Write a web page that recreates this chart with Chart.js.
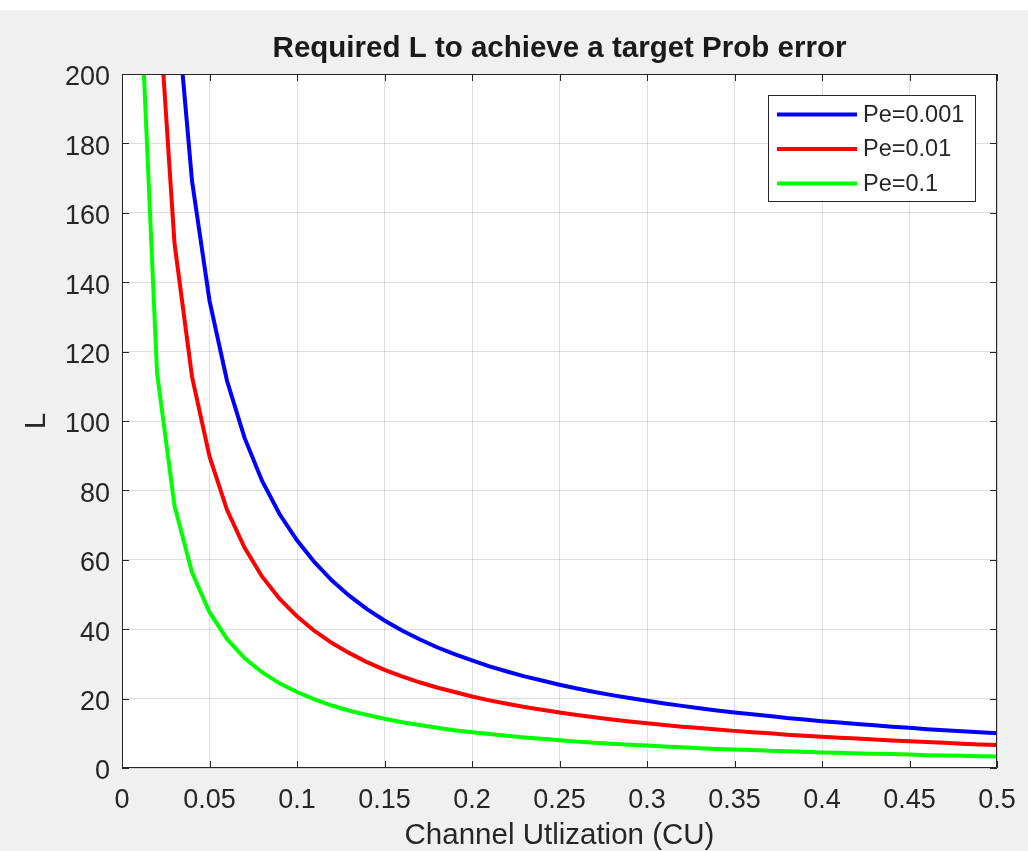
<!DOCTYPE html>
<html>
<head>
<meta charset="utf-8">
<script src="https://cdn.jsdelivr.net/npm/chart.js@4.4.1/dist/chart.umd.min.js"></script>
<style>
  body { margin: 0; background: #f0f0f0; }
  #wrap { width: 1028px; height: 851px; }
</style>
</head>
<body>
<div id="wrap"><canvas id="chart" width="1028" height="851"></canvas></div>
<script>
// --- Data ---
const cu = [0.01, 0.02, 0.03, 0.04, 0.05, 0.06, 0.07, 0.08, 0.09, 0.10,
            0.11, 0.12, 0.13, 0.14, 0.15, 0.16, 0.17, 0.18, 0.19, 0.20,
            0.21, 0.22, 0.23, 0.24, 0.25, 0.26, 0.27, 0.28, 0.29, 0.30,
            0.31, 0.32, 0.33, 0.34, 0.35, 0.36, 0.37, 0.38, 0.39, 0.40,
            0.41, 0.42, 0.43, 0.44, 0.45, 0.46, 0.47, 0.48, 0.49, 0.50];

const pe001 = [687, 342, 226.8, 169.2, 134.7, 111.6, 95.2, 82.8, 73.2, 65.6,
               59.3, 54.0, 49.6, 45.8, 42.5, 39.6, 37.1, 34.8, 32.8, 31.0,
               29.3, 27.8, 26.4, 25.2, 24.0, 22.9, 21.9, 21.0, 20.2, 19.4,
               18.6, 17.9, 17.2, 16.6, 16.0, 15.5, 15.0, 14.4, 14.0, 13.5,
               13.1, 12.7, 12.3, 11.9, 11.6, 11.2, 10.9, 10.6, 10.3, 10.0];

const pe01 = [458, 228, 151.2, 112.8, 89.8, 74.4, 63.5, 55.2, 48.8, 43.7,
              39.5, 36.0, 33.1, 30.5, 28.3, 26.4, 24.7, 23.2, 21.9, 20.6,
              19.5, 18.5, 17.6, 16.8, 16.0, 15.3, 14.6, 14.0, 13.4, 12.9,
              12.4, 11.9, 11.5, 11.1, 10.7, 10.3, 10.0, 9.6, 9.3, 9.0,
              8.7, 8.5, 8.2, 7.9, 7.7, 7.5, 7.3, 7.0, 6.8, 6.6];

const pe1 = [229.1, 114.0, 75.6, 56.4, 44.9, 37.2, 31.7, 27.6, 24.4, 21.9,
             19.8, 18.0, 16.5, 15.3, 14.2, 13.2, 12.4, 11.6, 10.9, 10.3,
             9.8, 9.3, 8.8, 8.4, 8.0, 7.6, 7.3, 7.0, 6.7, 6.5,
             6.2, 6.0, 5.7, 5.5, 5.3, 5.2, 5.0, 4.8, 4.7, 4.5,
             4.4, 4.2, 4.1, 4.0, 3.9, 3.7, 3.6, 3.5, 3.4, 3.3];

const seriesLabels = ["Pe=0.001", "Pe=0.01", "Pe=0.1"];
const seriesColors = ["#0000ff", "#ff0000", "#00ff00"];

const xTickValues = [0, 0.05, 0.1, 0.15, 0.2, 0.25, 0.3, 0.35, 0.4, 0.45, 0.5];
const xTickLabels = ["0", "0.05", "0.1", "0.15", "0.2", "0.25", "0.3", "0.35", "0.4", "0.45", "0.5"];
const yTickValues = [0, 20, 40, 60, 80, 100, 120, 140, 160, 180, 200];
const yTickLabels = ["0", "20", "40", "60", "80", "100", "120", "140", "160", "180", "200"];

const titleText = "Required L to achieve a target Prob error";
const xTitle = "Channel Utlization (CU)";
const yTitle = "L";

const FONT = "'Liberation Sans', Arial, Helvetica, sans-serif";
const AXIS_COLOR = "#262626";

// --- Plugins ---
// background: grey figure, white axes
const backgroundPlugin = {
  id: "matlabBackground",
  beforeDraw(chart) {
    const { ctx, chartArea: a } = chart;
    ctx.save();
    ctx.fillStyle = "#f0f0f0";
    ctx.fillRect(0, 0, chart.width, chart.height);
    ctx.fillStyle = "#ffffff";
    ctx.fillRect(0, 0, chart.width, 10);
    ctx.fillRect(a.left, a.top, a.right - a.left, a.bottom - a.top);
    ctx.restore();
  }
};

// box, inward ticks on all sides, titles, legend
const decorPlugin = {
  id: "matlabDecor",
  afterDatasetsDraw(chart) {
    const { ctx, chartArea: a, scales } = chart;
    const tl = 7;
    ctx.save();
    ctx.strokeStyle = AXIS_COLOR;
    ctx.lineWidth = 1;
    ctx.beginPath();
    ctx.rect(a.left + 0.5, a.top + 0.5, a.right - a.left - 1, a.bottom - a.top - 1);
    scales.x.ticks.forEach(t => {
      const px = Math.round(scales.x.getPixelForValue(t.value)) + 0.5;
      ctx.moveTo(px, a.bottom); ctx.lineTo(px, a.bottom - tl);
      ctx.moveTo(px, a.top); ctx.lineTo(px, a.top + tl);
    });
    scales.y.ticks.forEach(t => {
      const py = Math.round(scales.y.getPixelForValue(t.value)) + 0.5;
      ctx.moveTo(a.left, py); ctx.lineTo(a.left + tl, py);
      ctx.moveTo(a.right, py); ctx.lineTo(a.right - tl, py);
    });
    ctx.stroke();
    ctx.restore();
  },
  afterDraw(chart) {
    const { ctx, chartArea: a } = chart;
    const cx = (a.left + a.right) / 2;
    ctx.save();
    // title
    ctx.fillStyle = "#1a1a1a";
    ctx.font = "bold 29.5px " + FONT;
    ctx.textAlign = "center";
    ctx.textBaseline = "middle";
    ctx.fillText(titleText, cx, 49);
    // axis titles
    ctx.fillStyle = AXIS_COLOR;
    ctx.font = "29.5px " + FONT;
    ctx.fillText(xTitle, cx, 836);
    ctx.translate(37, (a.top + a.bottom) / 2);
    ctx.rotate(-Math.PI / 2);
    ctx.fillText(yTitle, 0, 0);
    ctx.restore();

    // legend
    const box = { x: 768, y: 95, w: 207, h: 106 };
    ctx.save();
    ctx.fillStyle = "#ffffff";
    ctx.fillRect(box.x, box.y, box.w, box.h);
    ctx.strokeStyle = AXIS_COLOR;
    ctx.lineWidth = 1;
    ctx.strokeRect(box.x + 0.5, box.y + 0.5, box.w, box.h);
    ctx.font = "23.5px " + FONT;
    ctx.textBaseline = "middle";
    ctx.textAlign = "left";
    chart.data.datasets.forEach((ds, i) => {
      const y = box.y + 19.5 + i * 34.5;
      ctx.strokeStyle = ds.borderColor;
      ctx.lineWidth = 4;
      ctx.beginPath();
      ctx.moveTo(777, y);
      ctx.lineTo(857, y);
      ctx.stroke();
      ctx.fillStyle = AXIS_COLOR;
      ctx.fillText(ds.label, 863, y + 1);
    });
    ctx.restore();
  }
};

function series(values, i) {
  return {
    label: seriesLabels[i],
    data: cu.map((x, k) => ({ x: x, y: values[k] })),
    borderColor: seriesColors[i],
    backgroundColor: seriesColors[i],
    borderWidth: 4,
    pointRadius: 0,
    tension: 0,
    fill: false,
    clip: 0
  };
}

new Chart(document.getElementById("chart"), {
  type: "line",
  data: {
    datasets: [series(pe001, 0), series(pe01, 1), series(pe1, 2)]
  },
  options: {
    responsive: false,
    animation: false,
    layout: { padding: { top: 74, right: 31, left: 0, bottom: 0 } },
    plugins: {
      legend: { display: false },
      title: { display: false },
      tooltip: { enabled: false }
    },
    scales: {
      x: {
        type: "linear",
        min: 0,
        max: 0.5,
        afterBuildTicks: s => { s.ticks = xTickValues.map(v => ({ value: v })); },
        afterFit: s => { s.height = 83; s.paddingLeft = 0; s.paddingRight = 0; },
        grid: { color: "rgba(38,38,38,0.15)", drawTicks: false },
        border: { display: false },
        ticks: {
          padding: 16,
          maxRotation: 0,
          autoSkip: false,
          color: AXIS_COLOR,
          font: { family: FONT, size: 27 },
          callback: (v, i) => xTickLabels[i]
        }
      },
      y: {
        type: "linear",
        min: 0,
        max: 200,
        afterBuildTicks: s => { s.ticks = yTickValues.map(v => ({ value: v })); },
        afterFit: s => { s.width = 122; s.paddingTop = 0; s.paddingBottom = 0; },
        grid: { color: "rgba(38,38,38,0.15)", drawTicks: false },
        border: { display: false },
        ticks: {
          padding: 12,
          labelOffset: 4,
          autoSkip: false,
          color: AXIS_COLOR,
          font: { family: FONT, size: 27 },
          callback: (v, i) => yTickLabels[i]
        }
      }
    }
  },
  plugins: [backgroundPlugin, decorPlugin]
});
</script>
</body>
</html>
